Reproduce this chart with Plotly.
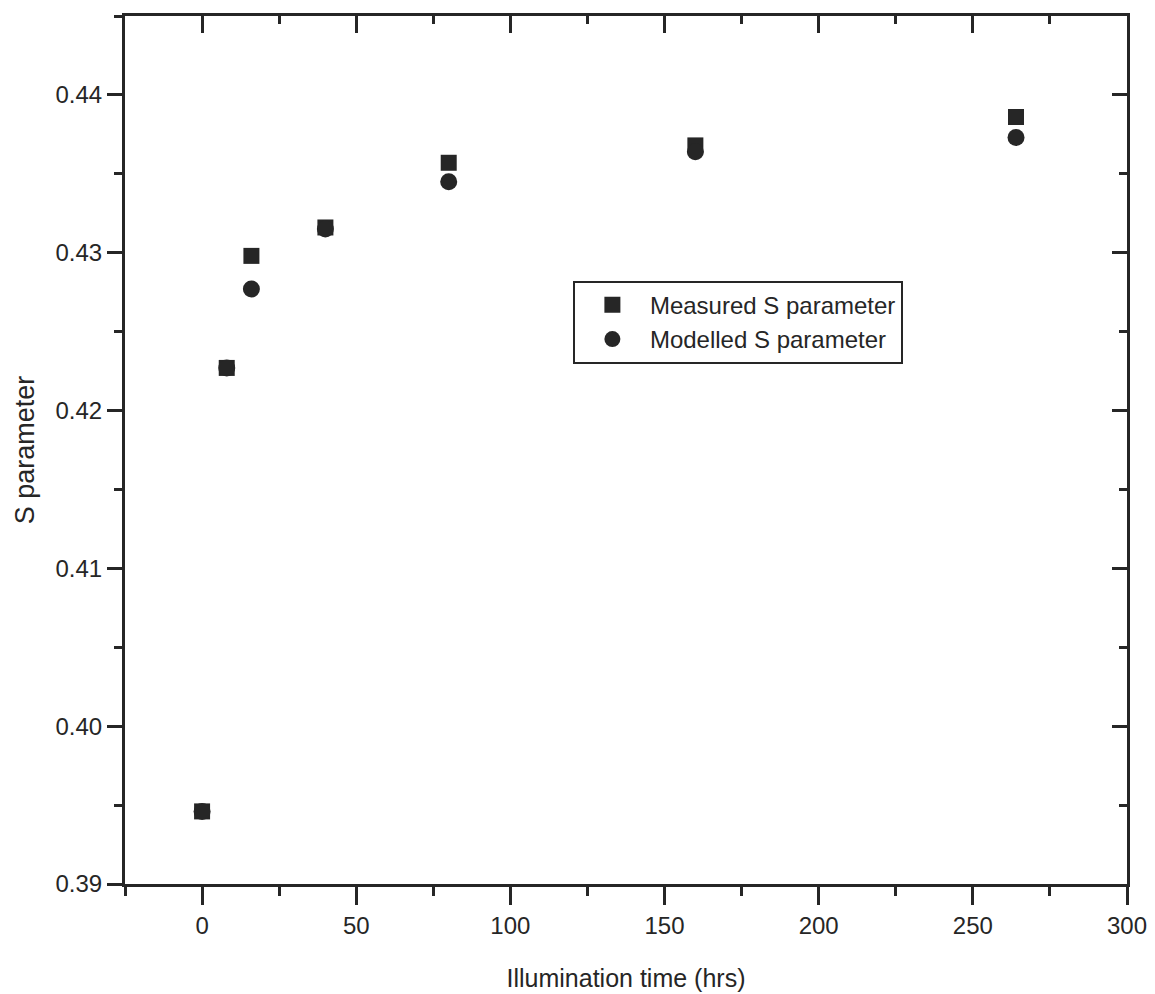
import plotly.graph_objects as go

# Illumination time (hours)
illumination_hrs = [0, 8, 16, 40, 80, 160, 264]
# Measured S parameter
measured_s = [0.3946, 0.4227, 0.4298, 0.4316, 0.4357, 0.4368, 0.4386]
# Modelled S parameter
modelled_s = [0.3946, 0.4227, 0.4277, 0.4315, 0.4345, 0.4364, 0.4373]

x_range = [-25, 300]
y_range = [0.39, 0.445]
x_ticks = [0, 50, 100, 150, 200, 250, 300]
y_ticks = [0.39, 0.40, 0.41, 0.42, 0.43, 0.44]
y_ticklabels = ["0.39", "0.40", "0.41", "0.42", "0.43", "0.44"]

ink = "#262626"
font_family = "Liberation Sans, Arial, sans-serif"

fig = go.Figure()
fig.add_trace(go.Scatter(
    x=illumination_hrs, y=measured_s, mode="markers",
    name="Measured S parameter",
    marker=dict(symbol="square", size=16, color=ink),
))
fig.add_trace(go.Scatter(
    x=illumination_hrs, y=modelled_s, mode="markers",
    name="Modelled S parameter",
    marker=dict(symbol="circle", size=17, color=ink),
))
# transparent copy on the top/right axes so the mirrored frame with inward ticks is drawn
fig.add_trace(go.Scatter(
    x=illumination_hrs, y=measured_s, mode="markers", xaxis="x2", yaxis="y2",
    marker=dict(opacity=0), showlegend=False, hoverinfo="skip",
))

axis_common = dict(
    showline=True, linewidth=3, linecolor=ink,
    showgrid=False, zeroline=False,
    tickwidth=2.5, tickcolor=ink, automargin=False,
)

fig.update_layout(
    width=1155, height=994,
    margin=dict(l=125, r=28, t=16, b=110),
    paper_bgcolor="white", plot_bgcolor="white",
    font=dict(family=font_family, size=24, color=ink),
    showlegend=True,
    legend=dict(
        x=0.447, y=0.695, xanchor="left", yanchor="top",
        bordercolor=ink, borderwidth=2, bgcolor="white",
        font=dict(size=24, color=ink),
        itemwidth=65, tracegroupgap=0,
    ),
    xaxis=dict(
        range=x_range, tickvals=x_ticks, ticks="outside", ticklen=18,
        minor=dict(dtick=25, tick0=0, ticks="outside", ticklen=9, tickwidth=2.5, tickcolor=ink),
        title=dict(text="Illumination time (hrs)", standoff=32, font=dict(size=25)),
        tickfont=dict(size=24), **axis_common,
    ),
    yaxis=dict(
        range=y_range, tickvals=y_ticks, ticktext=y_ticklabels, ticks="outside", ticklen=15,
        minor=dict(dtick=0.005, tick0=0.39, ticks="outside", ticklen=8, tickwidth=2.5, tickcolor=ink),
        title=dict(text="S parameter", standoff=14, font=dict(size=27)),
        tickfont=dict(size=24), **axis_common,
    ),
    xaxis2=dict(
        overlaying="x", side="top", anchor="y", range=x_range, tickvals=x_ticks,
        ticks="inside", ticklen=17, showticklabels=False,
        minor=dict(dtick=25, tick0=0, ticks="inside", ticklen=8, tickwidth=2.5, tickcolor=ink),
        **axis_common,
    ),
    yaxis2=dict(
        overlaying="y", side="right", anchor="x", range=y_range, tickvals=y_ticks,
        ticks="inside", ticklen=15, showticklabels=False,
        minor=dict(dtick=0.005, tick0=0.39, ticks="inside", ticklen=8, tickwidth=2.5, tickcolor=ink),
        **axis_common,
    ),
)

fig.write_html("out.html")
